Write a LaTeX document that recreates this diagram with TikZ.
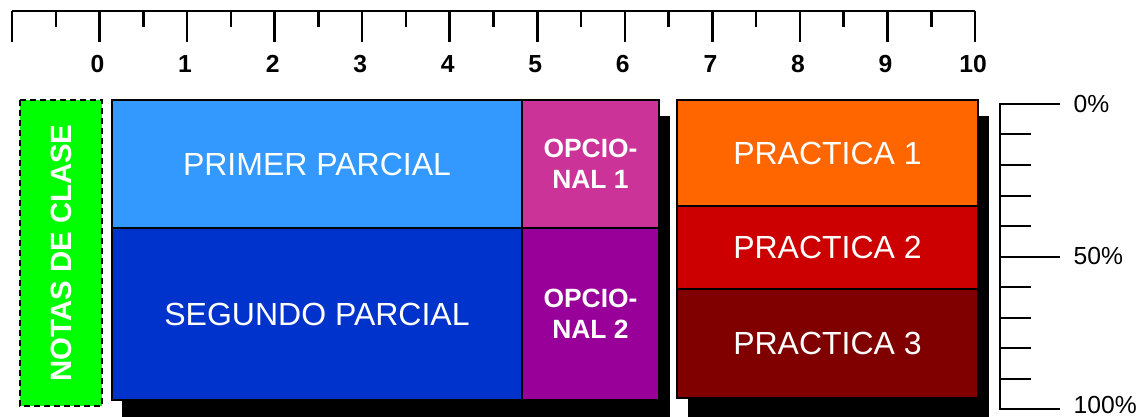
\documentclass[tikz,border=0pt]{standalone}
\usepackage{fontspec}
\setmainfont{Liberation Sans}
\usetikzlibrary{positioning}

\definecolor{notasverde}{RGB}{0,255,0}
\definecolor{parcialuno}{RGB}{51,153,255}
\definecolor{parcialdos}{RGB}{0,51,204}
\definecolor{opcuno}{RGB}{204,51,153}
\definecolor{opcdos}{RGB}{153,0,153}
\definecolor{pracuno}{RGB}{255,102,0}
\definecolor{pracdos}{RGB}{204,0,0}
\definecolor{practres}{RGB}{128,0,0}

\tikzset{
  bloque/.style={draw=black, line width=1.1pt, text=white, inner sep=0pt, outer sep=0pt},
  grande/.style={font=\fontsize{24}{28}\selectfont},
  opcional/.style={font=\bfseries\fontsize{19.8}{23.3}\selectfont, align=center},
  regla/.style={line width=1.9pt},
  escala/.style={line width=1.5pt},
}

\begin{document}
\begin{tikzpicture}[x=0.75pt, y=-0.75pt]
  \useasboundingbox (0,0) rectangle (1145,417);

  % regla de arriba
  \draw[regla] (12,11) -- (975,11);
  \foreach \i in {-1,...,10} {
    \draw[regla] ({12+87.55*(\i+1)},11) -- ++(0,31);
  }
  \foreach \i in {-1,...,9} {
    \draw[regla] ({12+87.55*(\i+1.5)},11) -- ++(0,16);
  }
  \foreach \i in {0,...,10} {
    \node[font=\bfseries\fontsize{18.5}{22}\selectfont, name=num\i] at ({10+87.55*(\i+1)},64) {\i};
  }

  % sombras
  \fill[black] (122,116) rectangle (670,417);
  \fill[black] (688,116) rectangle (989,417);

  % notas de clase
  \node[bloque, fill=notasverde, dashed, dash pattern=on 4.5pt off 3pt, line width=1.4pt,
        rotate=90, minimum width=229.5pt, minimum height=61.5pt,
        font=\bfseries\fontsize{22}{26}\selectfont] (notas) at (61,253) {NOTAS DE CLASE};

  % parciales
  \node[bloque, grande, fill=parcialuno, anchor=north west,
        minimum width=307.5pt, minimum height=96pt] (primer) at (112,100) {PRIMER PARCIAL};
  \node[bloque, grande, fill=parcialdos, below=0pt of primer,
        minimum width=307.5pt, minimum height=129pt] (segundo) {SEGUNDO PARCIAL};
  \node[bloque, opcional, fill=opcuno, right=0pt of primer,
        minimum width=102.75pt, minimum height=96pt] (opc1) {OPCIO-\\NAL 1};
  \node[bloque, opcional, fill=opcdos, below=0pt of opc1,
        minimum width=102.75pt, minimum height=129pt] (opc2) {OPCIO-\\NAL 2};

  % practicas
  \node[bloque, grande, fill=pracuno, anchor=north west,
        minimum width=225.75pt, minimum height=79.5pt] (prac1) at (677,100) {PRACTICA 1};
  \node[bloque, grande, fill=pracdos, below=0pt of prac1,
        minimum width=225.75pt, minimum height=62.25pt] (prac2) {PRACTICA 2};
  \node[bloque, grande, fill=practres, below=0pt of prac2,
        minimum width=225.75pt, minimum height=81.75pt] (prac3) {PRACTICA 3};

  % escala de porcentaje
  \draw[escala] (1060,104) -- (1000,104) -- (1000,409) -- (1060,409);
  \draw[escala] (1000,256.5) -- (1060,256.5);
  \foreach \k in {1,2,3,4,6,7,8,9} {
    \draw[escala] (1000,{104+30.5*\k}) -- ++(31,0);
  }
  \node[anchor=west, font=\fontsize{18.5}{22}\selectfont] (cero) at (1069,104) {0\%};
  \node[anchor=west, font=\fontsize{18.5}{22}\selectfont] (medio) at (1069,256.5) {50\%};
  \node[anchor=west, font=\fontsize{18.5}{22}\selectfont] (cien) at (1069,405) {100\%};
\end{tikzpicture}
\end{document}
